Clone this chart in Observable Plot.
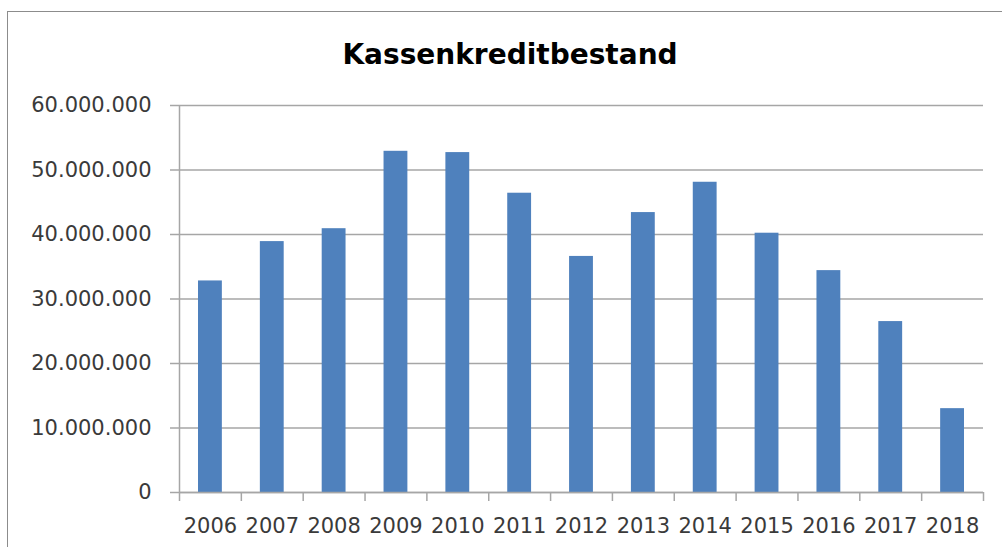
<!DOCTYPE html>
<html><head><meta charset="utf-8">
<script src="https://cdn.jsdelivr.net/npm/d3@7"></script>
<script src="https://cdn.jsdelivr.net/npm/@observablehq/plot@0.6"></script>
<style>
html,body{margin:0;padding:0;background:#fff;width:1002px;height:547px;overflow:hidden}
#frame{position:absolute;left:7px;top:11px;width:1010px;height:560px;border:1.5px solid #8c8c8c;box-sizing:border-box}
#title{position:absolute;left:0;top:41px;width:1020px;text-align:center;font-family:"DejaVu Sans";font-weight:bold;font-size:28px;line-height:28px;color:#000}
#chart{position:absolute;left:0;top:0}
</style></head><body>
<div id="frame"></div>
<div id="chart"></div>
<div id="title"></div>
<script>
const title = "Kassenkreditbestand";
const years = [2006, 2007, 2008, 2009, 2010, 2011, 2012, 2013, 2014, 2015, 2016, 2017, 2018];
const values = [32800000, 38900000, 40900000, 52900000, 52700000, 46400000, 36600000, 43400000, 48100000, 40200000, 34400000, 26500000, 13000000];
const yTicks = [0, 10000000, 20000000, 30000000, 40000000, 50000000, 60000000];

document.getElementById("title").textContent = title;
const data = years.map((year, i) => ({year, value: values[i]}));
const de = d3.formatLocale({decimal: ",", thousands: ".", grouping: [3], currency: ["", " €"]});
const fmt = de.format(",");
const edges = years.map(y => y - 0.5).concat([years[years.length - 1] + 0.5]);
const grid = "#a6a6a6";

const plot = Plot.plot({
  width: 1002, height: 547,
  marginLeft: 179, marginRight: 19, marginTop: 105, marginBottom: 55,
  style: {fontFamily: "DejaVu Sans", fontSize: "21px", color: "#3a3a3a", background: "transparent", overflow: "visible"},
  x: {type: "linear", domain: [edges[0], edges[edges.length - 1]]},
  y: {domain: [0, 60000000]},
  marks: [
    Plot.gridY({ticks: yTicks, stroke: grid, strokeOpacity: 1, strokeWidth: 1.5}),
    Plot.rectY(data, {x1: d => d.year - 0.5, x2: d => d.year + 0.5, y: "value", insetLeft: 19, insetRight: 19, fill: "#4f81bd"}),
    Plot.ruleX([edges[0]], {y1: 0, y2: 60000000, stroke: grid, strokeWidth: 1.5}),
    Plot.ruleY([0], {stroke: grid, strokeWidth: 1.5}),
    Plot.axisY({ticks: yTicks, tickSize: 9, tickPadding: 19, tickFormat: fmt, stroke: grid, strokeWidth: 1.5, label: null}),
    Plot.axisX({ticks: edges, tickSize: 9, tickFormat: () => "", stroke: grid, strokeWidth: 1.5, label: null}),
    Plot.axisX({ticks: years, tickSize: 0, tickPadding: 26, tickFormat: d => String(d), label: null})
  ]
});
document.getElementById("chart").appendChild(plot);
</script>
</body></html>
